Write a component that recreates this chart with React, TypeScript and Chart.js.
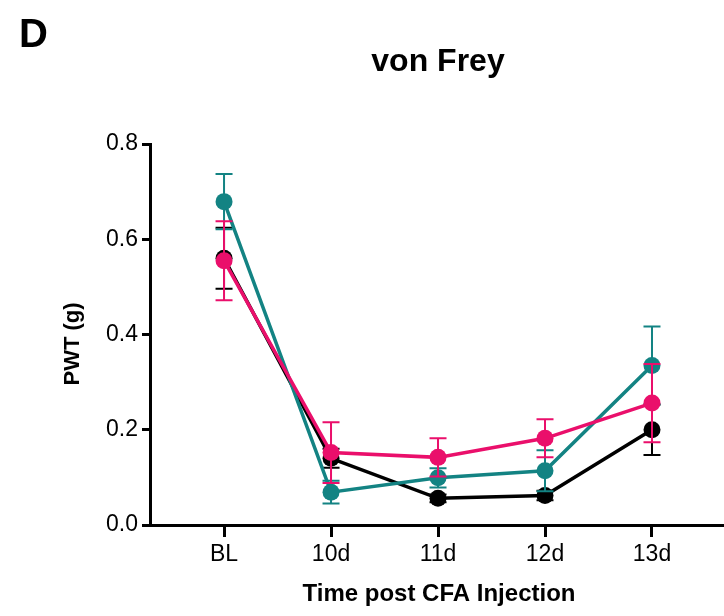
import React, { useEffect, useRef } from "react";
import { Chart, registerables } from "chart.js";

Chart.register(...registerables);

const categories = ["BL", "10d", "11d", "12d", "13d"];
const yTicks = [0, 0.2, 0.4, 0.6, 0.8];

const blackMean = [0.56, 0.14, 0.056, 0.062, 0.2];
const blackErr = [0.064, 0.02, 0.008, 0.01, 0.053];
const tealMean = [0.679, 0.069, 0.099, 0.114, 0.335];
const tealErr = [0.058, 0.024, 0.02, 0.043, 0.082];
const pinkMean = [0.555, 0.152, 0.142, 0.182, 0.256];
const pinkErr = [0.083, 0.064, 0.04, 0.04, 0.082];

const BLACK = "#000000";
const TEAL = "#138383";
const PINK = "#EA0F6B";
const FONT = "'Liberation Sans', Arial, Helvetica, sans-serif";

// dataset order: first in list is drawn on top in Chart.js
const errors = [pinkErr, tealErr, blackErr];
const colors = [PINK, TEAL, BLACK];

const errorBarPlugin = {
  id: "errorBars",
  beforeDatasetDraw(chart: any, args: any) {
    const i = args.index;
    const meta = chart.getDatasetMeta(i);
    const ds = chart.data.datasets[i];
    const ys = chart.scales.y;
    const ctx = chart.ctx;
    ctx.save();
    ctx.strokeStyle = colors[i];
    ctx.lineWidth = 2;
    meta.data.forEach((pt: any, j: number) => {
      const v = ds.data[j].y;
      const e = errors[i][j];
      const x = pt.x;
      const yTop = ys.getPixelForValue(v + e);
      const yBot = ys.getPixelForValue(v - e);
      ctx.beginPath();
      ctx.moveTo(x, yTop);
      ctx.lineTo(x, yBot);
      ctx.moveTo(x - 8.5, yTop);
      ctx.lineTo(x + 8.5, yTop);
      ctx.moveTo(x - 8.5, yBot);
      ctx.lineTo(x + 8.5, yBot);
      ctx.stroke();
    });
    ctx.restore();
  },
};

const textPlugin = {
  id: "texts",
  afterDraw(chart: any) {
    const ctx = chart.ctx;
    ctx.save();
    ctx.fillStyle = "#000";
    ctx.textBaseline = "alphabetic";
    ctx.font = `bold 40px ${FONT}`;
    ctx.textAlign = "left";
    ctx.fillText("D", 19, 47);
    ctx.font = `bold 32px ${FONT}`;
    ctx.textAlign = "center";
    ctx.fillText("von Frey", 438, 71);
    ctx.font = `bold 24px ${FONT}`;
    ctx.fillText("Time post CFA Injection", 439, 601);
    ctx.translate(79, 344);
    ctx.rotate(-Math.PI / 2);
    ctx.font = `bold 22px ${FONT}`;
    ctx.fillText("PWT (g)", 0, 0);
    ctx.restore();
  },
};

function toPoints(arr: number[]) {
  return arr.map((y, i) => ({ x: i, y }));
}

export default function App() {
  const ref = useRef<HTMLCanvasElement | null>(null);
  useEffect(() => {
    if (!ref.current) return;
    const mk = (label: string, data: number[], color: string) => ({
      label,
      data: toPoints(data),
      borderColor: color,
      backgroundColor: color,
      pointBackgroundColor: color,
      pointBorderWidth: 0,
      pointRadius: 8.5,
      borderWidth: 3.5,
      tension: 0,
      clip: false,
    });
    const chart = new Chart(ref.current, {
      type: "line",
      data: {
        datasets: [
          mk("Pink", pinkMean, PINK),
          mk("Teal", tealMean, TEAL),
          mk("Black", blackMean, BLACK),
        ],
      },
      options: {
        animation: false,
        responsive: false,
        events: [],
        layout: { autoPadding: false, padding: { top: 144, right: 0, bottom: 0, left: 0 } },
        plugins: {
          legend: { display: false },
          tooltip: { enabled: false },
          title: { display: false },
        },
        scales: {
          x: {
            type: "linear",
            min: -0.692,
            max: 4.673,
            afterBuildTicks: (scale: any) => {
              scale.ticks = categories.map((_, i) => ({ value: i }));
            },
            afterFit: (scale: any) => {
              scale.height = 91;
              scale.paddingLeft = 0;
              scale.paddingRight = 0;
            },
            ticks: {
              callback: (v: any) => categories[v as number] ?? "",
              color: "#000",
              font: { family: FONT, size: 23 },
              padding: 4,
              maxRotation: 0,
              autoSkip: false,
            },
            grid: {
              drawOnChartArea: false,
              drawTicks: true,
              tickLength: 12,
              color: "#000",
              lineWidth: 3,
            },
            border: { color: "#000", width: 3 },
          },
          y: {
            type: "linear",
            min: 0,
            max: 0.8,
            afterBuildTicks: (scale: any) => {
              scale.ticks = yTicks.map((v) => ({ value: v }));
            },
            afterFit: (scale: any) => {
              scale.width = 150;
              scale.paddingTop = 0;
              scale.paddingBottom = 0;
            },
            ticks: {
              callback: (v: any) => Number(v).toFixed(1),
              color: "#000",
              font: { family: FONT, size: 23 },
              padding: 4,
            },
            grid: {
              drawOnChartArea: false,
              drawTicks: true,
              tickLength: 8,
              color: "#000",
              lineWidth: 3,
            },
            border: { color: "#000", width: 3 },
          },
        },
      },
      plugins: [errorBarPlugin, textPlugin],
    } as any);
    return () => chart.destroy();
  }, []);
  return (
    <div style={{ position: "fixed", left: 0, top: 0, width: 724, height: 616 }}>
      <canvas ref={ref} width={724} height={616} style={{ width: 724, height: 616 }} />
    </div>
  );
}
